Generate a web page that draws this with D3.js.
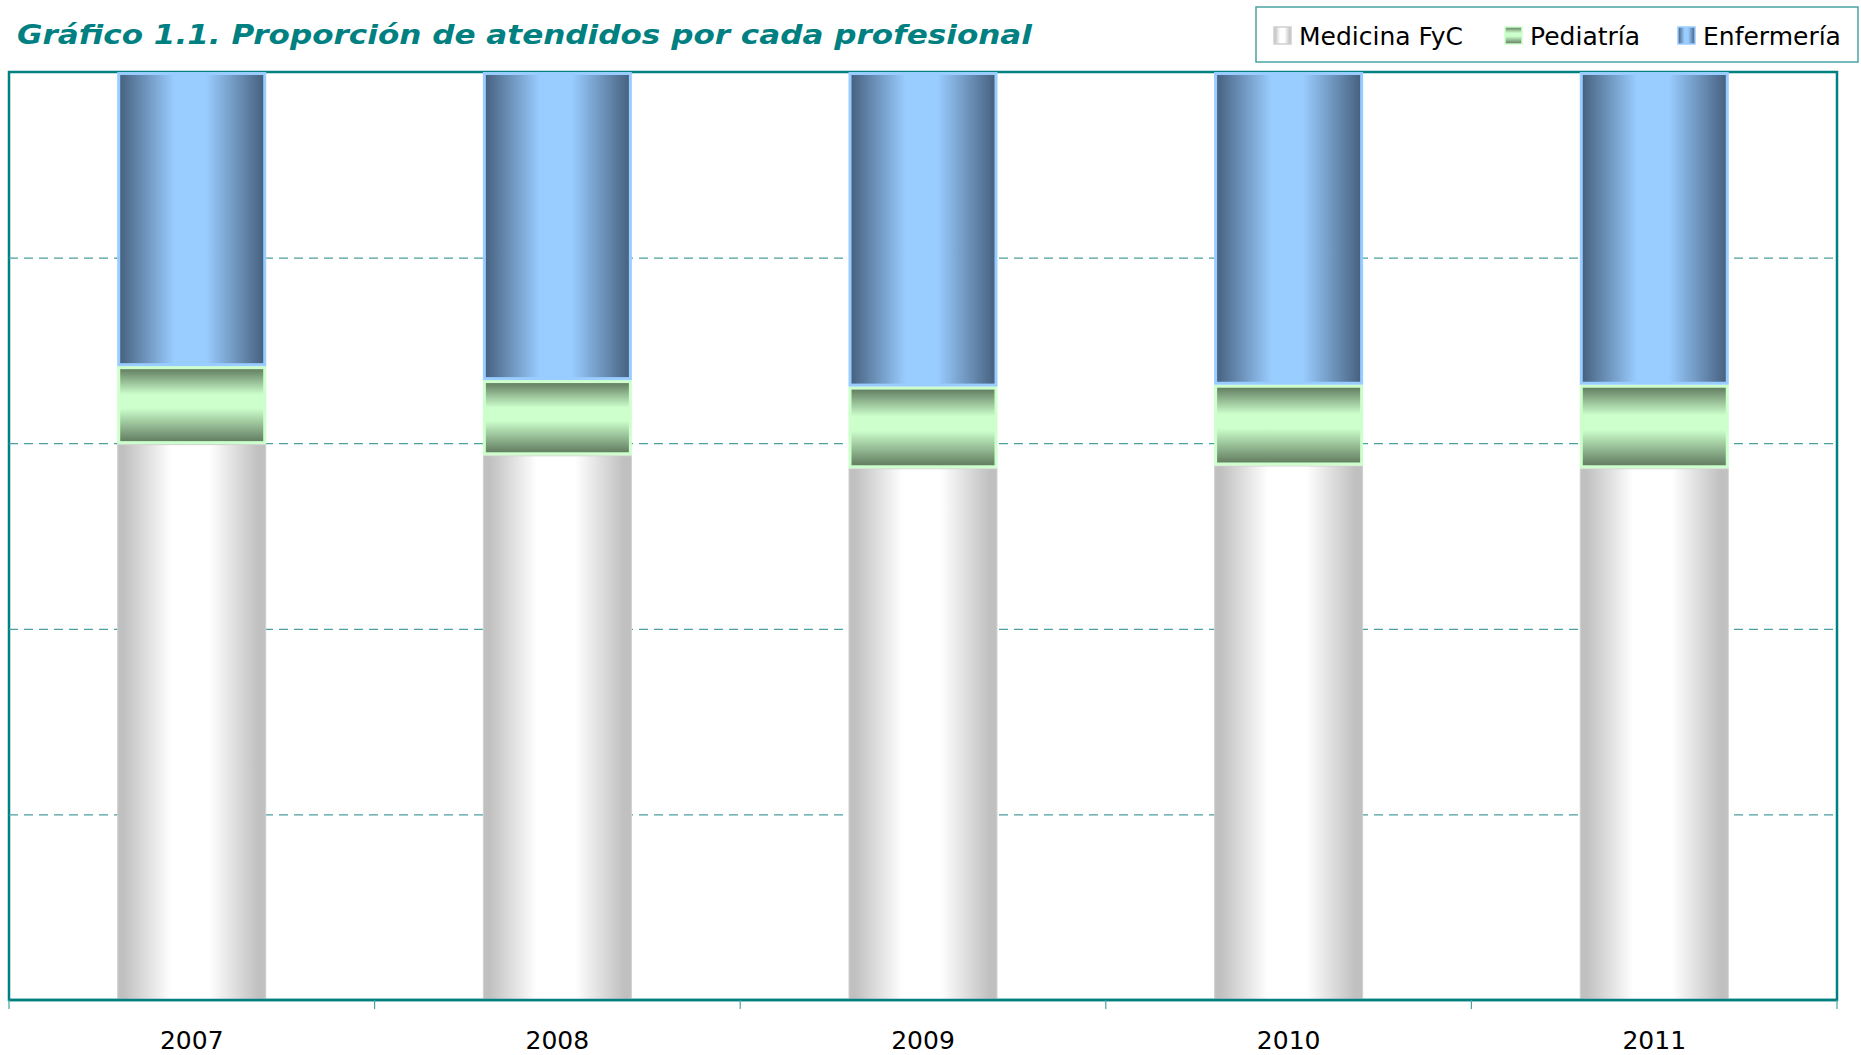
<!DOCTYPE html>
<html>
<head>
<meta charset="utf-8">
<script src="https://cdn.jsdelivr.net/npm/d3@7"></script>
<style>
  html, body { margin: 0; padding: 0; background: #fff; }
  svg { display: block; font-family: "DejaVu Sans", Verdana, sans-serif; }
</style>
</head>
<body>
<div id="chart"></div>
<script>
const years = ['2007', '2008', '2009', '2010', '2011'];
const medicina = [59.9, 58.7, 57.3, 57.6, 57.3];
const pediatria = [8.4, 8.1, 8.8, 8.7, 9.0];
const enfermeria = [31.7, 33.2, 33.9, 33.7, 33.7];
const seriesNames = ['Medicina FyC', 'Pediatría', 'Enfermería'];
const gridTicks = [20, 40, 60, 80];

const W = 1861, H = 1055;
const plot = {x0: 9, x1: 1837, y0: 72, y1: 1000};
const teal = '#008080';

const svg = d3.select('#chart').append('svg').attr('width', W).attr('height', H);
const defs = svg.append('defs');

// gradients: edge colour -> centre colour -> edge colour
const grads = [
  {id: 'gMed', edge: '#c0c0c0', mid: '#ffffff', vertical: false, stroke: '#cfcfcf', sw: 1,
   stops: [[0, 0], [0.04, 0], [0.36, 1], [0.62, 1], [0.95, 0], [1, 0]]},
  {id: 'gPed', edge: '#5e785c', mid: '#ccffcc', vertical: true, stroke: '#ccffcc', sw: 3,
   stops: [[0, 0], [0.36, 1], [0.54, 1], [1, 0]]},
  {id: 'gEnf', edge: '#455f7d', mid: '#99ccff', vertical: false, stroke: '#99ccff', sw: 3,
   stops: [[0, 0], [0.38, 1], [0.60, 1], [1, 0]]}
];
grads.forEach(g => {
  const lg = defs.append('linearGradient').attr('id', g.id)
    .attr('x1', 0).attr('y1', 0).attr('x2', g.vertical ? 0 : 1).attr('y2', g.vertical ? 1 : 0);
  const mix = d3.interpolateRgb(g.edge, g.mid);
  g.stops.forEach(([o, t]) => lg.append('stop').attr('offset', o).attr('stop-color', mix(t)));
});

const x = d3.scaleBand().domain(years).range([plot.x0, plot.x1]).paddingInner(0.5925).paddingOuter(0.296);
const xCat = d3.scaleBand().domain(years).range([plot.x0, plot.x1]).padding(0);
const y = d3.scaleLinear().domain([0, 100]).range([plot.y1, plot.y0]);

// title
svg.append('text').attr('x', 17).attr('y', 44)
  .attr('fill', teal).style('font-size', '26px').style('font-weight', 'bold').style('font-style', 'italic')
  .attr('textLength', 1015).attr('lengthAdjust', 'spacingAndGlyphs')
  .text('Gráfico 1.1. Proporción de atendidos por cada profesional');

// plot frame
svg.append('rect').attr('x', plot.x0).attr('y', plot.y0)
  .attr('width', plot.x1 - plot.x0).attr('height', plot.y1 - plot.y0)
  .attr('fill', 'none').attr('stroke', teal).attr('stroke-width', 2.5);

// gridlines
const grid = svg.append('g').attr('transform', `translate(${plot.x0},0)`)
  .call(d3.axisLeft(y).tickValues(gridTicks).tickSize(-(plot.x1 - plot.x0)).tickFormat(''));
grid.select('.domain').remove();
grid.selectAll('.tick line').attr('stroke', '#4c9f9f').attr('stroke-width', 1.2).attr('stroke-dasharray', '9,6');

// stacked bars
const rows = years.map((yr, i) => ({year: yr, med: medicina[i], ped: pediatria[i], enf: enfermeria[i]}));
const stack = d3.stack().keys(['med', 'ped', 'enf'])(rows);
const bars = svg.append('g');
stack.forEach((layer, li) => {
  const g = grads[li];
  bars.append('g').selectAll('rect').data(layer).join('rect')
    .attr('x', d => x(d.data.year) + g.sw / 2)
    .attr('width', x.bandwidth() - g.sw)
    .attr('y', d => y(d[1]) + g.sw / 2)
    .attr('height', d => y(d[0]) - y(d[1]) - g.sw)
    .attr('fill', `url(#${g.id})`)
    .attr('stroke', g.stroke)
    .attr('stroke-width', g.sw);
});

// bottom axis line + boundary ticks
svg.append('line').attr('x1', plot.x0).attr('x2', plot.x1).attr('y1', plot.y1).attr('y2', plot.y1)
  .attr('stroke', teal).attr('stroke-width', 2.5);
const bounds = years.map(d => xCat(d)).concat([plot.x1]);
svg.append('g').selectAll('line').data(bounds).join('line')
  .attr('x1', d => d).attr('x2', d => d).attr('y1', plot.y1).attr('y2', plot.y1 + 9)
  .attr('stroke', '#4aa3a3').attr('stroke-width', 1.2);

const xAxis = svg.append('g').attr('transform', `translate(0,${plot.y1})`)
  .call(d3.axisBottom(x).tickSize(0).tickPadding(31));
xAxis.select('.domain').remove();
xAxis.selectAll('text').attr('fill', '#000').style('font-size', '25px')
  .style('font-family', '"DejaVu Sans", Verdana, sans-serif');

// legend
const legend = svg.append('g');
legend.append('rect').attr('x', 1256).attr('y', 7).attr('width', 602).attr('height', 55)
  .attr('fill', '#fff').attr('stroke', '#4aa3a3').attr('stroke-width', 1.5);
const legX = [1274, 1505, 1678];
seriesNames.forEach((name, i) => {
  legend.append('rect').attr('x', legX[i]).attr('y', 27).attr('width', 17).attr('height', 17)
    .attr('fill', `url(#${grads[i].id})`).attr('stroke', grads[i].stroke).attr('stroke-width', 1.5);
  legend.append('text').attr('x', legX[i] + 25).attr('y', 45)
    .style('font-size', '25px').attr('fill', '#000').text(name);
});
</script>
</body>
</html>
